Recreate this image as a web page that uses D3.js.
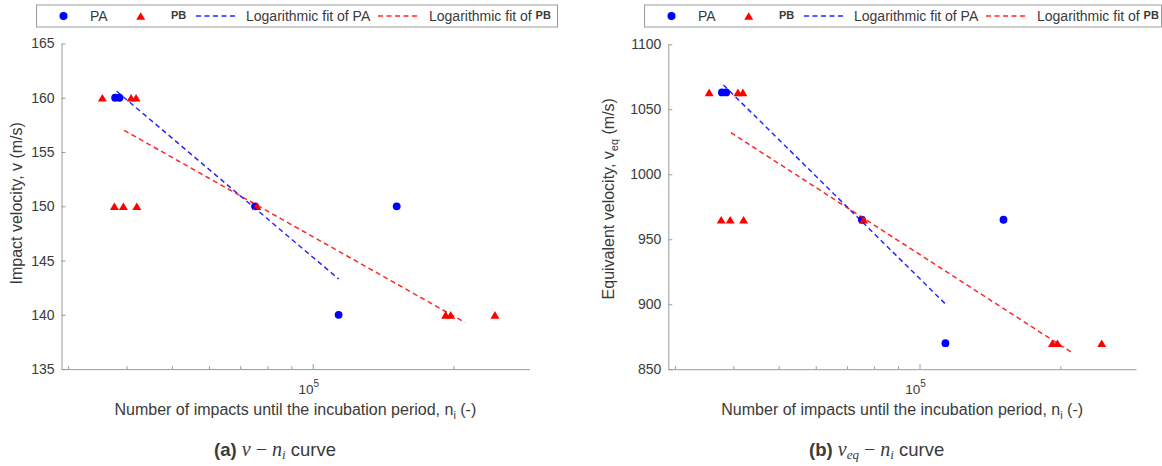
<!DOCTYPE html>
<html><head><meta charset="utf-8">
<script src="https://cdn.jsdelivr.net/npm/d3@7"></script>
<style>
html,body{margin:0;padding:0;background:#fff;}
svg{display:block;}
text{font-family:"Liberation Sans",Arial,Helvetica,sans-serif;fill:#3a3a3a;}
</style></head><body>
<svg id="fig" width="1162" height="466"></svg>
<script>
// Number of impacts until the incubation period (n_i) and test velocities
const nPA = [37810, 38620, 75300, 151200, 113600];
const vPA = [160, 160, 150, 150, 140];
const veqPA = [1063, 1063, 965, 965, 870];
const nPB = [35510, 40910, 41920, 37680, 39380, 42070, 75930, 192400, 197200, 245200];
const vPB = [160, 160, 160, 150, 150, 150, 150, 140, 140, 140];
const veqPB = [1063, 1063, 1063, 965, 965, 965, 965, 870, 870, 870];

// Logarithmic fits v = a + b*ln(n): straight on a log axis, given by their end points
const fitPAn = [38100, 113600];
const fitPAv = [160.6, 143.3];
const fitPAveq = [1068.7, 900.2];
const fitPBn = [39520, 211600];
const fitPBv = [157.0, 139.3];
const fitPBveq = [1032.0, 862.8];

// Axis limits and ticks
const xLimits = [2.904e4, 2.904e5];
const xMinorTicks = [3e4, 4e4, 5e4, 6e4, 7e4, 8e4, 9e4, 2e5];
const xMajorTicks = [1e5];
const vLimits = [135, 165];
const vTicks = [135, 140, 145, 150, 155, 160, 165];
const veqLimits = [850, 1100];
const veqTicks = [850, 900, 950, 1000, 1050, 1100];

const seriesNames = ["PA", "PB"];
const fitPrefix = "Logarithmic fit of ";

const BLUE = "#0000ff", RED = "#ff0000";
const AXIS = "#9a9a9a";
const svg = d3.select("#fig");

function triPath(w, h) {
  return `M0,${-h/2}L${w/2},${h/2}L${-w/2},${h/2}Z`;
}
const TRI = triPath(9, 7.6);

function drawPanel(p) {
  const g = svg.append("g");
  const x = d3.scaleLog().domain(xLimits).range([p.left, p.right]);
  const y = d3.scaleLinear().domain(p.yLimits).range([p.bottom, p.top]);

  // y axis, ticks pointing inward
  const ya = g.append("g").attr("transform", `translate(${p.left},0)`)
    .call(d3.axisLeft(y).tickValues(p.yTicks).tickSizeInner(-4).tickSizeOuter(0).tickPadding(7).tickFormat(d3.format("d")));
  ya.select(".domain").attr("stroke", AXIS);
  ya.selectAll(".tick line").attr("stroke", AXIS);
  ya.selectAll(".tick text").attr("font-size", 14).attr("font-family", "Liberation Sans, Arial, sans-serif").attr("fill", "#444");

  // x axis (log): minor and major ticks
  const xa = g.append("g").attr("transform", `translate(0,${p.bottom})`)
    .call(d3.axisBottom(x).tickValues(xMinorTicks).tickSizeInner(-3).tickSizeOuter(0).tickFormat(""));
  xa.select(".domain").attr("stroke", AXIS);
  xa.selectAll(".tick line").attr("stroke", AXIS);
  const xm = g.append("g").attr("transform", `translate(0,${p.bottom})`)
    .call(d3.axisBottom(x).tickValues(xMajorTicks).tickSizeInner(-5).tickSizeOuter(0).tickFormat(""));
  xm.select(".domain").remove();
  xm.selectAll(".tick line").attr("stroke", AXIS);
  xMajorTicks.forEach(t => {
    const e = Math.round(Math.log10(t));
    const tx = g.append("text").attr("x", x(t) - 4).attr("y", p.bottom + 25)
      .attr("text-anchor", "middle").attr("font-size", 13.5).attr("fill", "#444");
    tx.append("tspan").text("10");
    tx.append("tspan").attr("dy", -7).attr("font-size", 10).text(e);
  });

  // axis titles
  const cx = (p.left + p.right) / 2;
  const xl = g.append("text").attr("x", cx).attr("y", p.bottom + 46)
    .attr("text-anchor", "middle").attr("font-size", 16).attr("fill", "#444");
  xl.append("tspan").text("Number of impacts until the incubation period, n");
  xl.append("tspan").attr("dy", 4).attr("font-size", 11).text("i");
  xl.append("tspan").attr("dy", -4).text(" (-)");

  const cy = (p.top + p.bottom) / 2 + p.yLabelShift;
  const yl = g.append("text").attr("transform", `translate(${p.yLabelX},${cy}) rotate(-90)`)
    .attr("text-anchor", "middle").attr("font-size", 16).attr("fill", "#444");
  yl.append("tspan").text(p.yTitle);
  if (p.yTitleSub) {
    yl.append("tspan").attr("dy", 4).attr("font-size", 11).text(p.yTitleSub);
    yl.append("tspan").attr("dy", -4).text(" (m/s)");
  } else {
    yl.append("tspan").text(" (m/s)");
  }

  // PA markers
  g.append("g").selectAll("circle").data(nPA.map((n, i) => [n, p.yPA[i]])).join("circle")
    .attr("cx", d => x(d[0])).attr("cy", d => y(d[1])).attr("r", 3.9).attr("fill", BLUE);
  // PB markers
  g.append("g").selectAll("path").data(nPB.map((n, i) => [n, p.yPB[i]])).join("path")
    .attr("d", TRI).attr("transform", d => `translate(${x(d[0])},${y(d[1])})`).attr("fill", RED);

  // fitted lines
  const line = d3.line().x(d => x(d[0])).y(d => y(d[1]));
  g.append("path").datum(fitPAn.map((n, i) => [n, p.fitPA[i]])).attr("d", line)
    .attr("fill", "none").attr("stroke", BLUE).attr("stroke-width", 1.5).attr("stroke-dasharray", "5,3.5").attr("opacity", 0.85);
  g.append("path").datum(fitPBn.map((n, i) => [n, p.fitPB[i]])).attr("d", line)
    .attr("fill", "none").attr("stroke", RED).attr("stroke-width", 1.5).attr("stroke-dasharray", "5,3.5").attr("opacity", 0.85);

  // legend
  const L = g.append("g").attr("transform", `translate(${p.legendX},5)`);
  L.append("rect").attr("x", 0.5).attr("y", 0).attr("width", p.legendW).attr("height", 22)
    .attr("fill", "#fff").attr("stroke", "#999").attr("stroke-width", 1);
  const ly = 11;
  L.append("circle").attr("cx", 27.5).attr("cy", ly).attr("r", 4).attr("fill", BLUE);
  L.append("text").attr("x", 54).attr("y", ly + 5).attr("font-size", 14).attr("fill", "#222").text(seriesNames[0]);
  L.append("path").attr("d", TRI).attr("transform", `translate(104.7,${ly})`).attr("fill", RED);
  L.append("text").attr("x", 135).attr("y", ly + 2.5).attr("font-size", 11).attr("font-weight", 600).attr("fill", "#222").text(seriesNames[1]);
  L.append("line").attr("x1", 160).attr("x2", 201).attr("y1", ly).attr("y2", ly)
    .attr("stroke", BLUE).attr("stroke-width", 1.5).attr("stroke-dasharray", "5,3.5").attr("opacity", 0.85);
  L.append("text").attr("x", 210).attr("y", ly + 5).attr("font-size", 14).attr("fill", "#222").text(fitPrefix + seriesNames[0]);
  L.append("line").attr("x1", 342).attr("x2", 384).attr("y1", ly).attr("y2", ly)
    .attr("stroke", RED).attr("stroke-width", 1.5).attr("stroke-dasharray", "5,3.5").attr("opacity", 0.85);
  const lt = L.append("text").attr("x", 393).attr("y", ly + 5).attr("font-size", 14).attr("fill", "#222");
  lt.append("tspan").text(fitPrefix);
  lt.append("tspan").attr("dy", -2.5).attr("font-size", 11).attr("font-weight", 600).text(seriesNames[1]);

  // caption
  const cap = g.append("text").attr("x", p.capX).attr("y", 456).attr("font-size", 18.5).attr("fill", "#111");
  cap.append("tspan").attr("font-weight", "bold").text(p.capTag + " ");
  const serif = "Liberation Serif, DejaVu Serif, serif";
  cap.append("tspan").attr("font-family", serif).attr("font-style", "italic").attr("font-size", 20).text("v");
  if (p.capSub) {
    cap.append("tspan").attr("font-family", serif).attr("font-style", "italic").attr("font-size", 13).attr("dy", 3).text(p.capSub);
    cap.append("tspan").attr("dy", -3).attr("font-family", serif).attr("font-size", 20).text(" \u2212 ");
  } else {
    cap.append("tspan").attr("font-family", serif).attr("font-size", 20).text(" \u2212 ");
  }
  cap.append("tspan").attr("font-family", serif).attr("font-style", "italic").attr("font-size", 20).text("n");
  cap.append("tspan").attr("font-family", serif).attr("font-style", "italic").attr("font-size", 13).attr("dy", 3).text("i");
  cap.append("tspan").attr("dy", -3).text(" curve");
}

drawPanel({
  left: 61.5, right: 529.3, top: 43.5, bottom: 369.1,
  yLimits: vLimits, yTicks: vTicks,
  yPA: vPA, yPB: vPB, fitPA: fitPAv, fitPB: fitPBv,
  yTitle: "Impact velocity, v", yTitleSub: null, yLabelX: 22, yLabelShift: -3,
  legendX: 36, legendW: 521,
  capX: 214, capTag: "(a)", capSub: null
});
drawPanel({
  left: 668.3, right: 1136.1, top: 44.3, bottom: 369.2,
  yLimits: veqLimits, yTicks: veqTicks,
  yPA: veqPA, yPB: veqPB, fitPA: fitPAveq, fitPB: fitPBveq,
  yTitle: "Equivalent velocity, v", yTitleSub: "eq", yLabelX: 614, yLabelShift: -8,
  legendX: 644, legendW: 517,
  capX: 809, capTag: "(b)", capSub: "eq"
});
</script>
</body></html>
